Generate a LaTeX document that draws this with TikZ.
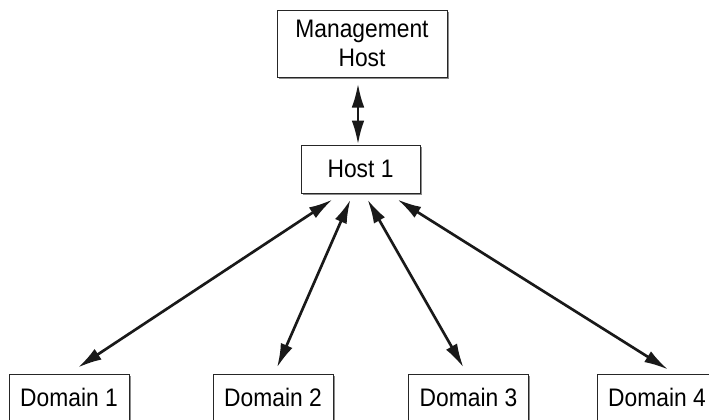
\documentclass[tikz,border=0pt]{standalone}
\usepackage{fontspec}
\setmainfont{Liberation Sans}[FakeStretch=0.9]
\usetikzlibrary{arrows.meta,calc,shadows}

\tikzset{
  box/.style={draw=black!85,line width=0.75pt,fill=white,inner sep=0pt,align=center,
    font=\fontsize{19}{21.75}\selectfont,
    drop shadow={shadow xshift=1.3pt,shadow yshift=-1.3pt,fill=black!45,opacity=1}},
  link/.style={line width=2pt,black!90,{Latex[length=18pt,width=9.5pt]}-{Latex[length=18pt,width=9.5pt]}}
}

\begin{document}
\begin{tikzpicture}[x=0.75pt,y=0.75pt,yscale=-1]
\useasboundingbox (0,0) rectangle (709,419); %diagram is 709 by 419
\clip (0,0) rectangle (709,419);

%Shape: Rectangle [management host]
\node[box,minimum width=170*0.75pt,minimum height=67*0.75pt] (mgmt) at (362,43.5) {Management\\Host};
%Shape: Rectangle [host 1]
\node[box,minimum width=119*0.75pt,minimum height=48*0.75pt] (host) at (360.5,169) {Host 1};

%Shape: Rectangle [domains]
\node[box,minimum width=120*0.75pt,minimum height=46*0.75pt] (dom1) at (69,397) {Domain 1};
\node[box,minimum width=120*0.75pt,minimum height=46*0.75pt] (dom2) at (273,397) {Domain 2};
\node[box,minimum width=120*0.75pt,minimum height=46*0.75pt] (dom3) at (468.5,397) {Domain 3};
\node[box,minimum width=120*0.75pt,minimum height=46*0.75pt] (dom4) at (657,397) {Domain 4};

%Straight Lines [management to host]
\draw[link] ($(mgmt.south)+(-4,6)$) -- ($(host.north)+(-2.5,0)$);
%Straight Lines [host to domains]
\draw[link] ($(host.south)+(-28,6)$) -- ($(dom1.north)+(9,-6)$);
\draw[link] ($(host.south)+(-10,6)$) -- ($(dom2.north)+(4,-6)$);
\draw[link] ($(host.south)+(7,6)$) -- ($(dom3.north)+(-5,-6)$);
\draw[link] ($(host.south)+(37,6)$) -- ($(dom4.north)+(11,-4)$);

\end{tikzpicture}
\end{document}
